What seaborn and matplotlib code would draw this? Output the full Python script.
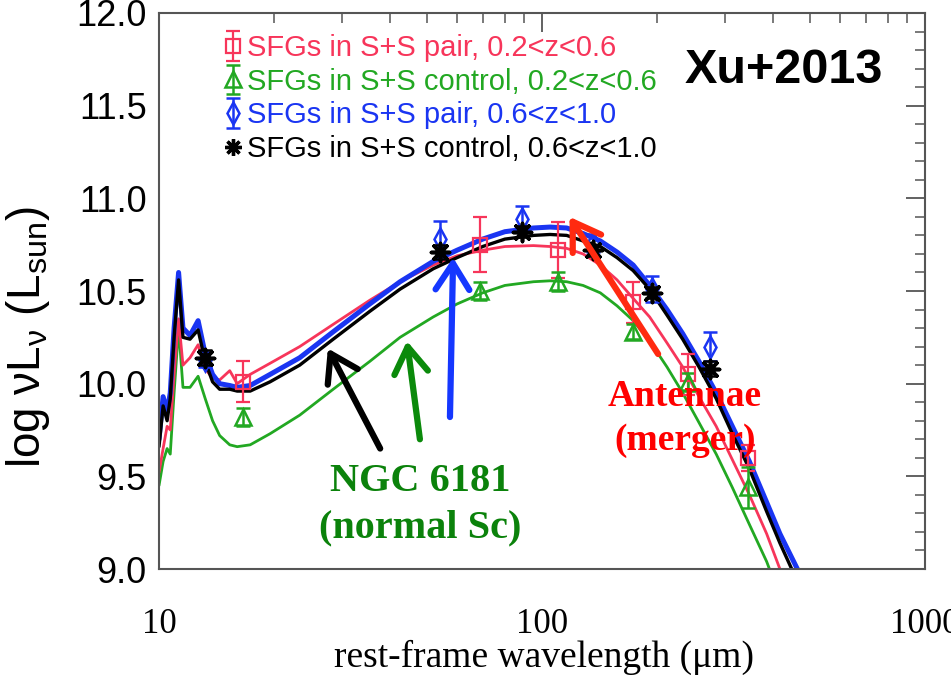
import numpy as np
import pandas as pd
import matplotlib
matplotlib.use("Agg")
import matplotlib.pyplot as plt
from matplotlib.lines import Line2D
import seaborn as sns

# ---------------- data ----------------
wave_grid = [10.0, 10.25, 10.5, 10.7, 10.95, 11.25, 11.55, 12.05, 12.65, 13.2, 13.8, 14.4,
             15.3, 16.0, 17.3, 19.5, 23.3, 28.5, 35.5, 42.6, 52, 60, 70, 80, 95, 105, 116,
             128, 142, 157, 173, 191, 212, 233, 257, 285, 314, 348, 386, 418, 472]

curve_pair_lo = [9.52, 9.65, 9.77, 9.75, 10.05, 10.35, 10.10, 10.14, 10.21, 10.08, 10.03, 10.02,
                 10.07, 10.00, 10.05, 10.11, 10.20, 10.32, 10.45, 10.55, 10.64, 10.69, 10.72,
                 10.74, 10.745, 10.74, 10.73, 10.70, 10.64, 10.56, 10.46, 10.36, 10.22, 10.09,
                 9.93, 9.77, 9.59, 9.40, 9.19, 9.00, 8.70]
curve_ctrl_lo = [9.45, 9.58, 9.65, 9.62, 9.95, 10.30, 9.98, 9.98, 10.04, 9.92, 9.80, 9.72,
                 9.67, 9.66, 9.67, 9.73, 9.83, 9.97, 10.12, 10.25, 10.36, 10.43, 10.49,
                 10.53, 10.55, 10.555, 10.55, 10.53, 10.49, 10.42, 10.34, 10.23, 10.09, 9.95,
                 9.79, 9.62, 9.44, 9.24, 9.04, 8.85, 8.55]
curve_pair_hi = [9.70, 9.93, 9.85, 9.95, 10.30, 10.60, 10.30, 10.26, 10.34, 10.16, 10.05, 10.00,
                 9.99, 9.98, 9.99, 10.05, 10.14, 10.28, 10.43, 10.55, 10.66, 10.72, 10.78,
                 10.82, 10.84, 10.845, 10.84, 10.81, 10.77, 10.71, 10.64, 10.53, 10.40, 10.27,
                 10.12, 9.95, 9.77, 9.58, 9.36, 9.19, 8.97]
curve_ctrl_hi = [9.66, 9.88, 9.80, 9.92, 10.25, 10.56, 10.25, 10.24, 10.29, 10.12, 10.01, 9.97,
                 9.97, 9.96, 9.96, 10.01, 10.10, 10.24, 10.39, 10.51, 10.62, 10.68, 10.74,
                 10.78, 10.80, 10.805, 10.80, 10.77, 10.74, 10.68, 10.61, 10.51, 10.37, 10.24,
                 10.09, 9.92, 9.73, 9.54, 9.31, 9.14, 8.90]

lam_lo = [16.6, 68.9, 110, 173, 240, 345]
pair_lo = [10.01, 10.75, 10.72, 10.44, 10.05, 9.60]
pair_lo_err = [0.11, 0.15, 0.15, 0.11, 0.11, 0.07]
ctrl_lo = [9.82, 10.50, 10.55, 10.28, 10.01, 9.44]
ctrl_lo_err = [0.05, 0.05, 0.05, 0.04, 0.05, 0.11]

lam_hi = [13.2, 54.2, 88.7, 136, 194, 275]
pair_hi = [10.13, 10.78, 10.89, 10.76, 10.51, 10.20]
pair_hi_err = [0.04, 0.10, 0.07, 0.05, 0.07, 0.08]
ctrl_hi = [10.14, 10.71, 10.82, 10.72, 10.49, 10.08]
ctrl_hi_err = [0.04, 0.04, 0.03, 0.03, 0.03, 0.04]

labels = ["SFGs in S+S pair, 0.2<z<0.6", "SFGs in S+S control, 0.2<z<0.6",
          "SFGs in S+S pair, 0.6<z<1.0", "SFGs in S+S control, 0.6<z<1.0"]

# ---------------- style ----------------
sns.set_theme(style="white")
plt.rcParams["font.family"] = ["Liberation Sans", "DejaVu Sans"]
plt.rcParams["mathtext.fontset"] = "custom"
plt.rcParams["mathtext.rm"] = "Liberation Sans"
plt.rcParams["mathtext.it"] = "Liberation Sans:italic"
plt.rcParams["text.color"] = "black"
plt.rcParams["axes.labelcolor"] = "black"
plt.rcParams["xtick.labelcolor"] = "black"
plt.rcParams["ytick.labelcolor"] = "black"

RED = "#f7355a"
GREEN = "#22a822"
BLUE = "#1a35f2"
BLACK = "#000000"
SERIF = ["Liberation Serif", "DejaVu Serif"]

fig = plt.figure(figsize=(9.51, 6.75), dpi=100)
ax = fig.add_axes([159 / 951, 1 - 569 / 675, 766 / 951, 556 / 675])

curves = pd.DataFrame({
    "wave": wave_grid * 4,
    "lum": curve_ctrl_lo + curve_pair_lo + curve_pair_hi + curve_ctrl_hi,
    "series": (["ctrl_lo"] * len(wave_grid) + ["pair_lo"] * len(wave_grid)
               + ["pair_hi"] * len(wave_grid) + ["ctrl_hi"] * len(wave_grid)),
})
widths = {"ctrl_lo": 2.0, "pair_lo": 2.0, "pair_hi": 3.6, "ctrl_hi": 2.4}
cols = {"ctrl_lo": GREEN, "pair_lo": RED, "pair_hi": BLUE, "ctrl_hi": BLACK}
for key in ["ctrl_lo", "pair_lo", "pair_hi", "ctrl_hi"]:
    sub = curves[curves["series"] == key]
    sns.lineplot(data=sub, x="wave", y="lum", ax=ax, color=cols[key],
                 linewidth=widths[key], estimator=None, legend=False, zorder=2)

h1 = ax.errorbar(lam_lo, pair_lo, yerr=pair_lo_err, fmt="s", mfc="none", mec=RED,
                 ms=10, mew=1.6, ecolor=RED, elinewidth=1.6, capsize=5, capthick=1.6,
                 label=labels[0], zorder=4)
h2 = ax.errorbar(lam_lo, ctrl_lo, yerr=ctrl_lo_err, fmt="^", mfc="none", mec=GREEN,
                 ms=11, mew=1.8, ecolor=GREEN, elinewidth=1.8, capsize=5, capthick=1.8,
                 label=labels[1], zorder=4)
h3 = ax.errorbar(lam_hi, pair_hi, yerr=pair_hi_err, fmt="d", mfc="none", mec=BLUE,
                 ms=11, mew=1.8, ecolor=BLUE, elinewidth=1.8, capsize=5, capthick=1.8,
                 label=labels[2], zorder=4)
ax.errorbar(lam_hi, ctrl_hi, yerr=ctrl_hi_err, fmt="none", ecolor=BLACK,
            elinewidth=1.8, capsize=5, capthick=1.8, zorder=5)
sns.scatterplot(x=lam_hi, y=ctrl_hi, ax=ax, marker=(8, 2, 0), s=170, color=BLACK,
                edgecolor=BLACK, linewidth=2.6, zorder=6, legend=False)
h4_leg = Line2D([], [], marker=(8, 2, 0), color=BLACK, linestyle="none", ms=12, mew=2.4)

ax.set_xscale("log")
ax.set_xlim(10, 1000)
ax.set_ylim(9.0, 12.0)

# ticks
yt = np.arange(9.0, 12.01, 0.5)
ax.set_yticks(yt)
ax.set_yticklabels([f"{v:.1f}" for v in yt], fontsize=26)
ax.set_yticks(np.arange(9.0, 12.01, 0.1), minor=True)
ax.set_xticks([10, 100, 1000])
ax.set_xticklabels(["10", "100", "1000"], fontsize=25, fontfamily=SERIF)
ax.tick_params(which="both", direction="in", top=True, right=True, color="#555555")
ax.tick_params(which="major", length=14, width=1.3)
ax.tick_params(which="minor", length=7, width=1.1)
ax.tick_params(axis="x", which="major", pad=28)
ax.tick_params(axis="y", which="major", pad=9)
for s in ax.spines.values():
    s.set_color("#555555")
    s.set_linewidth(1.5)

ax.set_xlabel("rest-frame wavelength (μm)", fontsize=27, fontfamily=SERIF)
ax.xaxis.set_label_coords(0.503, -0.128)
ax.set_ylabel(r"log νL$_{\mathrm{ν}}$ (L$_{\mathrm{sun}}$)", fontsize=33)
ax.yaxis.set_label_coords(-0.140, 0.417)

# legend
ax.legend([h1, h2, h3, h4_leg], labels, loc="upper left",
          bbox_to_anchor=(0.083, 0.962), frameon=False, fontsize=21,
          handlelength=0.7, handletextpad=0.15, labelspacing=0.19,
          borderpad=0, borderaxespad=0,
          labelcolor=[RED, GREEN, BLUE, BLACK])

fig.text(685 / 951, 1 - 83 / 675, "Xu+2013", fontsize=35, fontweight="bold",
         color="black", ha="left", va="baseline")

# annotation arrows
def arrow(head, tail, color):
    ax.annotate("", xy=head, xytext=tail,
                arrowprops=dict(arrowstyle="->,head_length=0.7,head_width=0.45",
                                lw=4.5, color=color, mutation_scale=27,
                                shrinkA=0, shrinkB=0), zorder=7)

arrow((27.6, 10.19), (37.8, 9.65), "black")
arrow((44.4, 10.23), (48.0, 9.70), "#0b8a0b")
arrow((58.6, 10.68), (57.5, 9.82), "#1537ff")
arrow((118, 10.90), (201, 10.16), "#ff2a10")

ax.text(48.0, 9.346, "NGC 6181\n(normal Sc)", fontsize=29, fontweight="bold",
        color="#0b820b", ha="center", va="center", linespacing=1.35,
        fontfamily=SERIF, zorder=8)
ax.text(236, 9.81, "Antennae\n(merger)", fontsize=27, fontweight="bold",
        color="#ff0000", ha="center", va="center", linespacing=1.32,
        fontfamily=SERIF, zorder=8)

fig.savefig("out.png", dpi=100)
